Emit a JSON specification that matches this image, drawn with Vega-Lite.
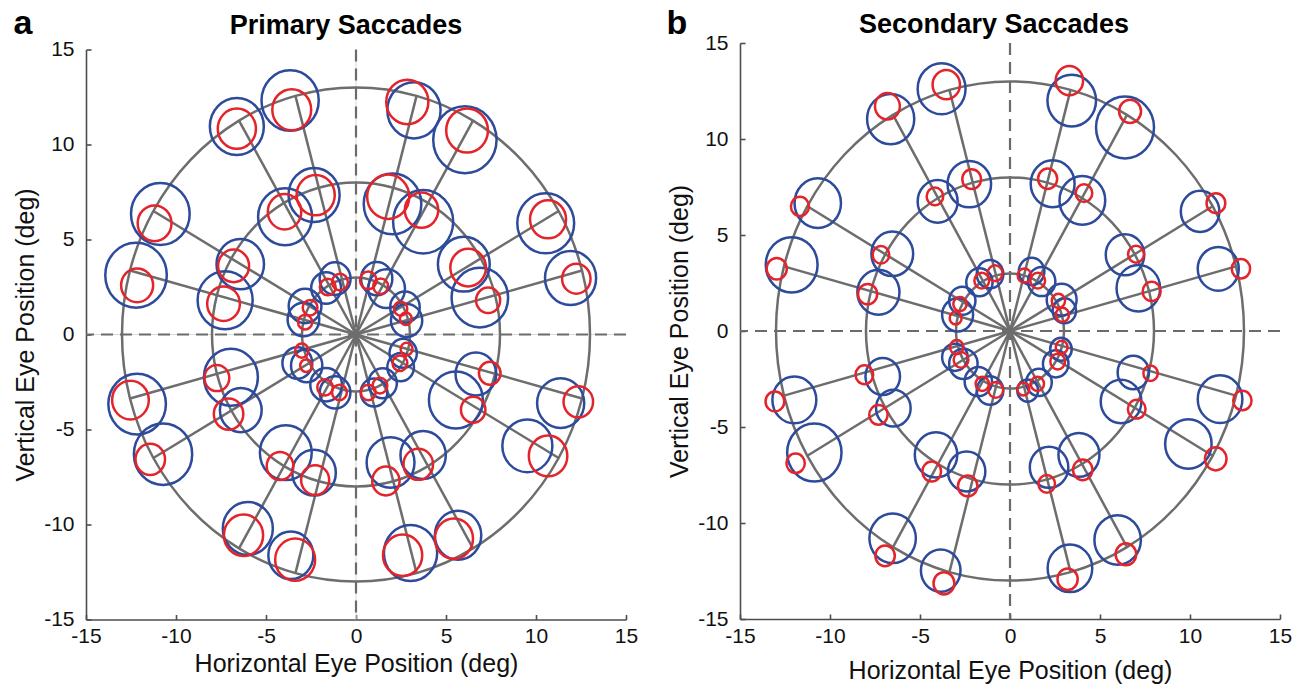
{
  "$schema": "https://vega.github.io/schema/vega-lite/v6.json",
  "background": "white",
  "padding": {"left": 13, "top": 6, "right": 5, "bottom": 5},
  "spacing": 28,
  "center": true,
  "config": {
    "view": {"stroke": null},
    "font": "Liberation Sans",
    "axis": {
      "grid": false,
      "domainColor": "#4d4d4d",
      "domainWidth": 1.6,
      "tickColor": "#4d4d4d",
      "tickWidth": 1.6,
      "tickSize": -5,
      "labelFont": "Liberation Sans",
      "labelFontSize": 21,
      "labelColor": "#111111",
      "titleFont": "Liberation Sans",
      "titleFontSize": 25,
      "titleFontWeight": "normal",
      "titleColor": "#111111",
      "labelFlush": false,
      "labelOverlap": false,
      "labelExpr": "'' + datum.value"
    },
    "axisX": {"labelPadding": 11, "titlePadding": 5},
    "axisY": {"labelPadding": 17, "titlePadding": 5},
    "title": {"font": "Liberation Sans", "fontSize": 27, "fontWeight": "bold", "color": "#000000", "baseline": "alphabetic"}
  },
  "datasets": {
    "rings": [
      {"ring": 13, "i": 0, "x": 13, "y": 0}, {"ring": 13, "i": 1, "x": 12.557, "y": 3.365}, {"ring": 13, "i": 2, "x": 11.258, "y": 6.5}, {"ring": 13, "i": 3, "x": 9.192, "y": 9.192}, {"ring": 13, "i": 4, "x": 6.5, "y": 11.258}, {"ring": 13, "i": 5, "x": 3.365, "y": 12.557}, {"ring": 13, "i": 6, "x": 0, "y": 13}, {"ring": 13, "i": 7, "x": -3.365, "y": 12.557}, {"ring": 13, "i": 8, "x": -6.5, "y": 11.258}, {"ring": 13, "i": 9, "x": -9.192, "y": 9.192}, {"ring": 13, "i": 10, "x": -11.258, "y": 6.5}, {"ring": 13, "i": 11, "x": -12.557, "y": 3.365}, {"ring": 13, "i": 12, "x": -13, "y": 0}, {"ring": 13, "i": 13, "x": -12.557, "y": -3.365}, {"ring": 13, "i": 14, "x": -11.258, "y": -6.5}, {"ring": 13, "i": 15, "x": -9.192, "y": -9.192}, {"ring": 13, "i": 16, "x": -6.5, "y": -11.258}, {"ring": 13, "i": 17, "x": -3.365, "y": -12.557}, {"ring": 13, "i": 18, "x": 0, "y": -13}, {"ring": 13, "i": 19, "x": 3.365, "y": -12.557}, {"ring": 13, "i": 20, "x": 6.5, "y": -11.258}, {"ring": 13, "i": 21, "x": 9.192, "y": -9.192}, {"ring": 13, "i": 22, "x": 11.258, "y": -6.5}, {"ring": 13, "i": 23, "x": 12.557, "y": -3.365},
      {"ring": 8, "i": 0, "x": 8, "y": 0}, {"ring": 8, "i": 1, "x": 7.727, "y": 2.071}, {"ring": 8, "i": 2, "x": 6.928, "y": 4}, {"ring": 8, "i": 3, "x": 5.657, "y": 5.657}, {"ring": 8, "i": 4, "x": 4, "y": 6.928}, {"ring": 8, "i": 5, "x": 2.071, "y": 7.727}, {"ring": 8, "i": 6, "x": 0, "y": 8}, {"ring": 8, "i": 7, "x": -2.071, "y": 7.727}, {"ring": 8, "i": 8, "x": -4, "y": 6.928}, {"ring": 8, "i": 9, "x": -5.657, "y": 5.657}, {"ring": 8, "i": 10, "x": -6.928, "y": 4}, {"ring": 8, "i": 11, "x": -7.727, "y": 2.071}, {"ring": 8, "i": 12, "x": -8, "y": 0}, {"ring": 8, "i": 13, "x": -7.727, "y": -2.071}, {"ring": 8, "i": 14, "x": -6.928, "y": -4}, {"ring": 8, "i": 15, "x": -5.657, "y": -5.657}, {"ring": 8, "i": 16, "x": -4, "y": -6.928}, {"ring": 8, "i": 17, "x": -2.071, "y": -7.727}, {"ring": 8, "i": 18, "x": 0, "y": -8}, {"ring": 8, "i": 19, "x": 2.071, "y": -7.727}, {"ring": 8, "i": 20, "x": 4, "y": -6.928}, {"ring": 8, "i": 21, "x": 5.657, "y": -5.657}, {"ring": 8, "i": 22, "x": 6.928, "y": -4}, {"ring": 8, "i": 23, "x": 7.727, "y": -2.071},
      {"ring": 3, "i": 0, "x": 3, "y": 0}, {"ring": 3, "i": 1, "x": 2.898, "y": 0.776}, {"ring": 3, "i": 2, "x": 2.598, "y": 1.5}, {"ring": 3, "i": 3, "x": 2.121, "y": 2.121}, {"ring": 3, "i": 4, "x": 1.5, "y": 2.598}, {"ring": 3, "i": 5, "x": 0.776, "y": 2.898}, {"ring": 3, "i": 6, "x": 0, "y": 3}, {"ring": 3, "i": 7, "x": -0.776, "y": 2.898}, {"ring": 3, "i": 8, "x": -1.5, "y": 2.598}, {"ring": 3, "i": 9, "x": -2.121, "y": 2.121}, {"ring": 3, "i": 10, "x": -2.598, "y": 1.5}, {"ring": 3, "i": 11, "x": -2.898, "y": 0.776}, {"ring": 3, "i": 12, "x": -3, "y": 0}, {"ring": 3, "i": 13, "x": -2.898, "y": -0.776}, {"ring": 3, "i": 14, "x": -2.598, "y": -1.5}, {"ring": 3, "i": 15, "x": -2.121, "y": -2.121}, {"ring": 3, "i": 16, "x": -1.5, "y": -2.598}, {"ring": 3, "i": 17, "x": -0.776, "y": -2.898}, {"ring": 3, "i": 18, "x": 0, "y": -3}, {"ring": 3, "i": 19, "x": 0.776, "y": -2.898}, {"ring": 3, "i": 20, "x": 1.5, "y": -2.598}, {"ring": 3, "i": 21, "x": 2.121, "y": -2.121}, {"ring": 3, "i": 22, "x": 2.598, "y": -1.5}, {"ring": 3, "i": 23, "x": 2.898, "y": -0.776}
    ],
    "spokes": [
      {"ang": 15, "x0": 0, "y0": 0, "tx": 12.557, "ty": 3.365}, {"ang": 30, "x0": 0, "y0": 0, "tx": 11.258, "ty": 6.5}, {"ang": 60, "x0": 0, "y0": 0, "tx": 6.5, "ty": 11.258}, {"ang": 75, "x0": 0, "y0": 0, "tx": 3.365, "ty": 12.557},
      {"ang": 105, "x0": 0, "y0": 0, "tx": -3.365, "ty": 12.557}, {"ang": 120, "x0": 0, "y0": 0, "tx": -6.5, "ty": 11.258}, {"ang": 150, "x0": 0, "y0": 0, "tx": -11.258, "ty": 6.5}, {"ang": 165, "x0": 0, "y0": 0, "tx": -12.557, "ty": 3.365},
      {"ang": 195, "x0": 0, "y0": 0, "tx": -12.557, "ty": -3.365}, {"ang": 210, "x0": 0, "y0": 0, "tx": -11.258, "ty": -6.5}, {"ang": 240, "x0": 0, "y0": 0, "tx": -6.5, "ty": -11.258}, {"ang": 255, "x0": 0, "y0": 0, "tx": -3.365, "ty": -12.557},
      {"ang": 285, "x0": 0, "y0": 0, "tx": 3.365, "ty": -12.557}, {"ang": 300, "x0": 0, "y0": 0, "tx": 6.5, "ty": -11.258}, {"ang": 330, "x0": 0, "y0": 0, "tx": 11.258, "ty": -6.5}, {"ang": 345, "x0": 0, "y0": 0, "tx": 12.557, "ty": -3.365}
    ],
    "primary": [
      {"ring": 13, "ang": 15, "bx": 11.92, "by": 2.97, "br": 1.42, "ex": 12.24, "ey": 2.94, "er": 0.79},
      {"ring": 13, "ang": 30, "bx": 10.54, "by": 5.85, "br": 1.58, "ex": 10.67, "ey": 6.06, "er": 1.0},
      {"ring": 13, "ang": 60, "bx": 6.05, "by": 10.25, "br": 1.76, "ex": 6.17, "ey": 10.74, "er": 1.16},
      {"ring": 13, "ang": 75, "bx": 3.22, "by": 11.8, "br": 1.48, "ex": 2.85, "ey": 12.24, "er": 1.17},
      {"ring": 13, "ang": 105, "bx": -3.66, "by": 12.32, "br": 1.59, "ex": -3.57, "ey": 11.83, "er": 1.08},
      {"ring": 13, "ang": 120, "bx": -6.62, "by": 10.95, "br": 1.5, "ex": -6.62, "ey": 10.83, "er": 1.06},
      {"ring": 13, "ang": 150, "bx": -10.87, "by": 6.34, "br": 1.63, "ex": -11.19, "ey": 5.85, "er": 0.94},
      {"ring": 13, "ang": 165, "bx": -12.22, "by": 3.12, "br": 1.71, "ex": -12.16, "ey": 2.59, "er": 0.89},
      {"ring": 13, "ang": 195, "bx": -12.16, "by": -3.66, "br": 1.6, "ex": -12.53, "ey": -3.45, "er": 1.02},
      {"ring": 13, "ang": 210, "bx": -10.72, "by": -6.3, "br": 1.62, "ex": -11.43, "ey": -6.57, "er": 0.82},
      {"ring": 13, "ang": 240, "bx": -6.01, "by": -10.21, "br": 1.39, "ex": -6.25, "ey": -10.57, "er": 1.09},
      {"ring": 13, "ang": 255, "bx": -3.62, "by": -11.62, "br": 1.25, "ex": -3.38, "ey": -11.85, "er": 1.11},
      {"ring": 13, "ang": 285, "bx": 3.03, "by": -11.5, "br": 1.48, "ex": 2.59, "ey": -11.62, "er": 1.09},
      {"ring": 13, "ang": 300, "bx": 5.67, "by": -10.57, "br": 1.29, "ex": 5.44, "ey": -10.74, "er": 1.06},
      {"ring": 13, "ang": 330, "bx": 9.52, "by": -5.86, "br": 1.39, "ex": 10.67, "ey": -6.39, "er": 1.07},
      {"ring": 13, "ang": 345, "bx": 11.37, "by": -3.61, "br": 1.31, "ex": 12.35, "ey": -3.54, "er": 0.82},
      {"ring": 8, "ang": 15, "bx": 6.88, "by": 1.94, "br": 1.57, "ex": 7.34, "ey": 1.8, "er": 0.67},
      {"ring": 8, "ang": 30, "bx": 5.99, "by": 3.7, "br": 1.44, "ex": 6.23, "ey": 3.52, "er": 0.99},
      {"ring": 8, "ang": 60, "bx": 3.73, "by": 5.93, "br": 1.67, "ex": 3.64, "ey": 6.55, "er": 0.93},
      {"ring": 8, "ang": 75, "bx": 2.03, "by": 6.87, "br": 1.6, "ex": 1.79, "ey": 7.25, "er": 1.17},
      {"ring": 8, "ang": 105, "bx": -2.33, "by": 7.34, "br": 1.42, "ex": -2.24, "ey": 7.34, "er": 1.06},
      {"ring": 8, "ang": 120, "bx": -3.94, "by": 6.2, "br": 1.5, "ex": -3.97, "ey": 6.46, "er": 0.93},
      {"ring": 8, "ang": 150, "bx": -6.43, "by": 3.7, "br": 1.32, "ex": -6.8, "ey": 3.61, "er": 0.86},
      {"ring": 8, "ang": 165, "bx": -7.27, "by": 1.8, "br": 1.53, "ex": -7.36, "ey": 1.62, "er": 0.91},
      {"ring": 8, "ang": 195, "bx": -6.95, "by": -2.25, "br": 1.5, "ex": -7.73, "ey": -2.29, "er": 0.69},
      {"ring": 8, "ang": 210, "bx": -6.4, "by": -3.98, "br": 1.16, "ex": -7.08, "ey": -4.19, "er": 0.82},
      {"ring": 8, "ang": 240, "bx": -3.9, "by": -6.22, "br": 1.44, "ex": -4.22, "ey": -6.92, "er": 0.74},
      {"ring": 8, "ang": 255, "bx": -2.33, "by": -7.27, "br": 1.21, "ex": -2.27, "ey": -7.66, "er": 0.78},
      {"ring": 8, "ang": 285, "bx": 1.92, "by": -6.74, "br": 1.33, "ex": 1.66, "ey": -7.71, "er": 0.76},
      {"ring": 8, "ang": 300, "bx": 3.73, "by": -6.34, "br": 1.26, "ex": 3.46, "ey": -6.83, "er": 0.82},
      {"ring": 8, "ang": 330, "bx": 5.55, "by": -3.45, "br": 1.5, "ex": 6.51, "ey": -3.96, "er": 0.68},
      {"ring": 8, "ang": 345, "bx": 6.66, "by": -2.08, "br": 1.13, "ex": 7.43, "ey": -2.04, "er": 0.6},
      {"ring": 3, "ang": 15, "bx": 2.81, "by": 0.74, "br": 0.87, "ex": 2.77, "ey": 0.83, "er": 0.33},
      {"ring": 3, "ang": 30, "bx": 2.72, "by": 1.44, "br": 0.82, "ex": 2.48, "ey": 1.36, "er": 0.37},
      {"ring": 3, "ang": 60, "bx": 1.7, "by": 2.41, "br": 1.02, "ex": 1.37, "ey": 2.54, "er": 0.41},
      {"ring": 3, "ang": 75, "bx": 1.15, "by": 2.94, "br": 0.87, "ex": 0.68, "ey": 2.85, "er": 0.46},
      {"ring": 3, "ang": 105, "bx": -1.16, "by": 2.94, "br": 0.86, "ex": -0.89, "ey": 2.76, "er": 0.44},
      {"ring": 3, "ang": 120, "bx": -1.66, "by": 2.45, "br": 0.83, "ex": -1.57, "ey": 2.5, "er": 0.44},
      {"ring": 3, "ang": 150, "bx": -2.83, "by": 1.5, "br": 0.91, "ex": -2.55, "ey": 1.41, "er": 0.41},
      {"ring": 3, "ang": 165, "bx": -2.92, "by": 0.79, "br": 0.88, "ex": -2.83, "ey": 0.65, "er": 0.39},
      {"ring": 3, "ang": 195, "bx": -3.26, "by": -1.5, "br": 0.83, "ex": -3.01, "ey": -0.85, "er": 0.37},
      {"ring": 3, "ang": 210, "bx": -2.74, "by": -1.64, "br": 0.87, "ex": -2.77, "ey": -1.64, "er": 0.33},
      {"ring": 3, "ang": 240, "bx": -1.66, "by": -2.64, "br": 0.88, "ex": -1.72, "ey": -2.78, "er": 0.43},
      {"ring": 3, "ang": 255, "bx": -1.16, "by": -3.05, "br": 0.85, "ex": -0.92, "ey": -3.05, "er": 0.41},
      {"ring": 3, "ang": 285, "bx": 1.0, "by": -3.05, "br": 0.74, "ex": 0.68, "ey": -3.05, "er": 0.41},
      {"ring": 3, "ang": 300, "bx": 1.48, "by": -2.57, "br": 0.79, "ex": 1.33, "ey": -2.69, "er": 0.41},
      {"ring": 3, "ang": 330, "bx": 2.48, "by": -1.72, "br": 0.74, "ex": 2.44, "ey": -1.51, "er": 0.41},
      {"ring": 3, "ang": 345, "bx": 2.62, "by": -0.99, "br": 0.76, "ex": 2.81, "ey": -0.76, "er": 0.33}
    ],
    "secondary": [
      {"ring": 13, "ang": 15, "bx": 11.57, "by": 3.24, "br": 1.14, "ex": 12.83, "ey": 3.24, "er": 0.51},
      {"ring": 13, "ang": 30, "bx": 10.56, "by": 6.23, "br": 1.07, "ex": 11.44, "ey": 6.66, "er": 0.52},
      {"ring": 13, "ang": 60, "bx": 6.39, "by": 10.6, "br": 1.61, "ex": 6.67, "ey": 11.44, "er": 0.61},
      {"ring": 13, "ang": 75, "bx": 3.43, "by": 12.0, "br": 1.35, "ex": 3.3, "ey": 13.04, "er": 0.76},
      {"ring": 13, "ang": 105, "bx": -3.8, "by": 12.62, "br": 1.33, "ex": -3.54, "ey": 12.83, "er": 0.76},
      {"ring": 13, "ang": 120, "bx": -6.63, "by": 11.04, "br": 1.31, "ex": -6.81, "ey": 11.7, "er": 0.69},
      {"ring": 13, "ang": 150, "bx": -10.68, "by": 6.66, "br": 1.29, "ex": -11.67, "ey": 6.49, "er": 0.5},
      {"ring": 13, "ang": 165, "bx": -12.13, "by": 3.45, "br": 1.44, "ex": -12.96, "ey": 3.24, "er": 0.56},
      {"ring": 13, "ang": 195, "bx": -11.98, "by": -3.59, "br": 1.22, "ex": -13.06, "ey": -3.67, "er": 0.52},
      {"ring": 13, "ang": 210, "bx": -10.87, "by": -6.33, "br": 1.51, "ex": -11.91, "ey": -6.89, "er": 0.51},
      {"ring": 13, "ang": 240, "bx": -6.52, "by": -10.8, "br": 1.29, "ex": -6.94, "ey": -11.71, "er": 0.54},
      {"ring": 13, "ang": 255, "bx": -3.85, "by": -12.48, "br": 1.1, "ex": -3.67, "ey": -13.14, "er": 0.58},
      {"ring": 13, "ang": 285, "bx": 3.33, "by": -12.36, "br": 1.24, "ex": 3.2, "ey": -12.93, "er": 0.56},
      {"ring": 13, "ang": 300, "bx": 5.98, "by": -10.88, "br": 1.29, "ex": 6.44, "ey": -11.63, "er": 0.57},
      {"ring": 13, "ang": 330, "bx": 9.91, "by": -5.88, "br": 1.29, "ex": 11.43, "ey": -6.66, "er": 0.6},
      {"ring": 13, "ang": 345, "bx": 11.67, "by": -3.55, "br": 1.24, "ex": 12.91, "ey": -3.62, "er": 0.51},
      {"ring": 8, "ang": 15, "bx": 7.13, "by": 2.23, "br": 1.21, "ex": 7.87, "ey": 2.06, "er": 0.5},
      {"ring": 8, "ang": 30, "bx": 6.39, "by": 3.97, "br": 1.07, "ex": 7.0, "ey": 4.0, "er": 0.44},
      {"ring": 8, "ang": 60, "bx": 4.02, "by": 6.8, "br": 1.27, "ex": 4.11, "ey": 7.18, "er": 0.46},
      {"ring": 8, "ang": 75, "bx": 2.37, "by": 7.67, "br": 1.22, "ex": 2.09, "ey": 7.93, "er": 0.53},
      {"ring": 8, "ang": 105, "bx": -2.26, "by": 7.65, "br": 1.21, "ex": -2.13, "ey": 7.91, "er": 0.52},
      {"ring": 8, "ang": 120, "bx": -4.02, "by": 6.75, "br": 1.11, "ex": -4.17, "ey": 7.01, "er": 0.46},
      {"ring": 8, "ang": 150, "bx": -6.54, "by": 4.02, "br": 1.16, "ex": -7.17, "ey": 3.97, "er": 0.46},
      {"ring": 8, "ang": 165, "bx": -7.31, "by": 2.02, "br": 1.17, "ex": -7.91, "ey": 1.92, "er": 0.53},
      {"ring": 8, "ang": 195, "bx": -7.07, "by": -2.37, "br": 0.96, "ex": -8.09, "ey": -2.28, "er": 0.49},
      {"ring": 8, "ang": 210, "bx": -6.48, "by": -4.02, "br": 0.96, "ex": -7.31, "ey": -4.37, "er": 0.51},
      {"ring": 8, "ang": 240, "bx": -4.11, "by": -6.45, "br": 1.18, "ex": -4.35, "ey": -7.32, "er": 0.52},
      {"ring": 8, "ang": 255, "bx": -2.41, "by": -7.32, "br": 1.04, "ex": -2.35, "ey": -8.07, "er": 0.54},
      {"ring": 8, "ang": 285, "bx": 2.17, "by": -7.1, "br": 1.07, "ex": 2.04, "ey": -7.96, "er": 0.46},
      {"ring": 8, "ang": 300, "bx": 3.83, "by": -6.45, "br": 1.14, "ex": 4.04, "ey": -7.23, "er": 0.54},
      {"ring": 8, "ang": 330, "bx": 6.17, "by": -3.67, "br": 1.13, "ex": 7.04, "ey": -4.07, "er": 0.49},
      {"ring": 8, "ang": 345, "bx": 6.85, "by": -2.16, "br": 0.87, "ex": 7.81, "ey": -2.2, "er": 0.4},
      {"ring": 3, "ang": 15, "bx": 3.02, "by": 1.05, "br": 0.65, "ex": 2.91, "ey": 0.84, "er": 0.37},
      {"ring": 3, "ang": 30, "bx": 2.87, "by": 1.63, "br": 0.83, "ex": 2.69, "ey": 1.57, "er": 0.37},
      {"ring": 3, "ang": 60, "bx": 1.76, "by": 2.58, "br": 0.76, "ex": 1.54, "ey": 2.62, "er": 0.41},
      {"ring": 3, "ang": 75, "bx": 1.2, "by": 3.1, "br": 0.71, "ex": 0.8, "ey": 2.89, "er": 0.37},
      {"ring": 3, "ang": 105, "bx": -1.11, "by": 2.96, "br": 0.74, "ex": -0.83, "ey": 3.01, "er": 0.41},
      {"ring": 3, "ang": 120, "bx": -1.7, "by": 2.54, "br": 0.73, "ex": -1.57, "ey": 2.62, "er": 0.41},
      {"ring": 3, "ang": 150, "bx": -2.65, "by": 1.57, "br": 0.73, "ex": -2.78, "ey": 1.4, "er": 0.37},
      {"ring": 3, "ang": 165, "bx": -2.91, "by": 0.84, "br": 0.86, "ex": -3.02, "ey": 0.67, "er": 0.33},
      {"ring": 3, "ang": 195, "bx": -3.06, "by": -1.37, "br": 0.71, "ex": -2.96, "ey": -0.84, "er": 0.37},
      {"ring": 3, "ang": 210, "bx": -2.59, "by": -1.71, "br": 0.79, "ex": -2.72, "ey": -1.5, "er": 0.41},
      {"ring": 3, "ang": 240, "bx": -1.76, "by": -2.63, "br": 0.76, "ex": -1.54, "ey": -2.75, "er": 0.37},
      {"ring": 3, "ang": 255, "bx": -1.11, "by": -3.1, "br": 0.74, "ex": -0.79, "ey": -3.07, "er": 0.41},
      {"ring": 3, "ang": 285, "bx": 0.98, "by": -3.1, "br": 0.58, "ex": 0.74, "ey": -3.03, "er": 0.33},
      {"ring": 3, "ang": 300, "bx": 1.61, "by": -2.68, "br": 0.71, "ex": 1.52, "ey": -2.75, "er": 0.37},
      {"ring": 3, "ang": 330, "bx": 2.54, "by": -1.71, "br": 0.71, "ex": 2.65, "ey": -1.59, "er": 0.41},
      {"ring": 3, "ang": 345, "bx": 2.83, "by": -0.95, "br": 0.6, "ex": 2.87, "ey": -0.84, "er": 0.33}
    ]
  },
  "resolve": {"scale": {"x": "independent", "y": "independent", "size": "independent"}},
  "hconcat": [
    {
      "width": 540,
      "height": 570,
      "title": {"text": "Primary Saccades", "dx": -10, "offset": -33},
      "layer": [
        {
          "data": {"values": [{"v": 0}]},
          "mark": {"type": "rule", "color": "#d9d9d9", "strokeWidth": 1},
          "encoding": {"x": {"field": "v", "type": "quantitative", "scale": {"domain": [-15, 15]}, "axis": {"values": [-15, -10, -5, 0, 5, 10, 15]}, "title": "Horizontal Eye Position (deg)"}}
        },
        {
          "data": {"values": [{"v": 0}]},
          "mark": {"type": "rule", "color": "#d9d9d9", "strokeWidth": 1},
          "encoding": {"y": {"field": "v", "type": "quantitative", "scale": {"domain": [-15, 15]}, "axis": {"values": [-15, -10, -5, 0, 5, 10, 15]}, "title": "Vertical Eye Position (deg)"}}
        },
        {
          "data": {"values": [{"v": 0}]},
          "mark": {"type": "rule", "color": "#6b6b6b", "strokeWidth": 2.2, "strokeDash": [12, 7]},
          "encoding": {"x": {"field": "v", "type": "quantitative", "scale": {"domain": [-15, 15]}, "axis": {"values": [-15, -10, -5, 0, 5, 10, 15]}, "title": "Horizontal Eye Position (deg)"}}
        },
        {
          "data": {"values": [{"v": 0}]},
          "mark": {"type": "rule", "color": "#6b6b6b", "strokeWidth": 2.2, "strokeDash": [12, 7]},
          "encoding": {"y": {"field": "v", "type": "quantitative", "scale": {"domain": [-15, 15]}, "axis": {"values": [-15, -10, -5, 0, 5, 10, 15]}, "title": "Vertical Eye Position (deg)"}}
        },
        {
          "data": {"name": "rings"},
          "mark": {"type": "line", "interpolate": "cardinal-closed", "tension": 0, "color": "#6d6d6d", "strokeWidth": 2.5},
          "encoding": {
            "x": {"field": "x", "type": "quantitative", "scale": {"domain": [-15, 15]}, "axis": {"values": [-15, -10, -5, 0, 5, 10, 15]}, "title": "Horizontal Eye Position (deg)"},
            "y": {"field": "y", "type": "quantitative", "scale": {"domain": [-15, 15]}, "axis": {"values": [-15, -10, -5, 0, 5, 10, 15]}, "title": "Vertical Eye Position (deg)"},
            "detail": {"field": "ring", "type": "nominal"},
            "order": {"field": "i", "type": "quantitative"}
          }
        },
        {
          "data": {"name": "spokes"},
          "mark": {"type": "rule", "color": "#6d6d6d", "strokeWidth": 2.5},
          "encoding": {
            "x": {"field": "x0", "type": "quantitative", "scale": {"domain": [-15, 15]}, "axis": {"values": [-15, -10, -5, 0, 5, 10, 15]}, "title": "Horizontal Eye Position (deg)"},
            "y": {"field": "y0", "type": "quantitative", "scale": {"domain": [-15, 15]}, "axis": {"values": [-15, -10, -5, 0, 5, 10, 15]}, "title": "Vertical Eye Position (deg)"},
            "x2": {"field": "tx"},
            "y2": {"field": "ty"}
          }
        },
        {
          "data": {"name": "primary"},
          "mark": {"type": "point", "shape": "M0.947,0C0.947,0.552,0.523,1,0,1C-0.523,1,-0.947,0.552,-0.947,0C-0.947,-0.552,-0.523,-1,0,-1C0.523,-1,0.947,-0.552,0.947,0Z", "filled": false, "color": "#2d4a9b", "strokeWidth": 2.5, "opacity": 1},
          "encoding": {
            "x": {"field": "bx", "type": "quantitative", "scale": {"domain": [-15, 15]}, "axis": {"values": [-15, -10, -5, 0, 5, 10, 15]}, "title": "Horizontal Eye Position (deg)"},
            "y": {"field": "by", "type": "quantitative", "scale": {"domain": [-15, 15]}, "axis": {"values": [-15, -10, -5, 0, 5, 10, 15]}, "title": "Vertical Eye Position (deg)"},
            "size": {"field": "br", "type": "quantitative", "scale": {"type": "pow", "exponent": 2, "domain": [0, 1], "range": [0, 1444]}, "legend": null}
          }
        },
        {
          "data": {"name": "primary"},
          "mark": {"type": "point", "shape": "M0.947,0C0.947,0.552,0.523,1,0,1C-0.523,1,-0.947,0.552,-0.947,0C-0.947,-0.552,-0.523,-1,0,-1C0.523,-1,0.947,-0.552,0.947,0Z", "filled": false, "color": "#e3242b", "strokeWidth": 2.5, "opacity": 1},
          "encoding": {
            "x": {"field": "ex", "type": "quantitative", "scale": {"domain": [-15, 15]}, "axis": {"values": [-15, -10, -5, 0, 5, 10, 15]}, "title": "Horizontal Eye Position (deg)"},
            "y": {"field": "ey", "type": "quantitative", "scale": {"domain": [-15, 15]}, "axis": {"values": [-15, -10, -5, 0, 5, 10, 15]}, "title": "Vertical Eye Position (deg)"},
            "size": {"field": "er", "type": "quantitative", "scale": {"type": "pow", "exponent": 2, "domain": [0, 1], "range": [0, 1444]}, "legend": null}
          }
        },
        {
          "data": {"values": [{"panel": "a", "lx": -18.5, "ly": 15.84}]},
          "mark": {"type": "text", "fontSize": 34, "fontWeight": "bold", "font": "Liberation Sans", "color": "#000000", "align": "center", "baseline": "alphabetic", "clip": false},
          "encoding": {
            "x": {"field": "lx", "type": "quantitative", "scale": {"domain": [-15, 15]}, "axis": {"values": [-15, -10, -5, 0, 5, 10, 15]}, "title": "Horizontal Eye Position (deg)"},
            "y": {"field": "ly", "type": "quantitative", "scale": {"domain": [-15, 15]}, "axis": {"values": [-15, -10, -5, 0, 5, 10, 15]}, "title": "Vertical Eye Position (deg)"},
            "text": {"field": "panel"}
          }
        }
      ]
    },
    {
      "width": 540,
      "height": 576,
      "title": {"text": "Secondary Saccades", "dx": -16, "offset": -32},
      "layer": [
        {
          "data": {"values": [{"v": 0}]},
          "mark": {"type": "rule", "color": "#6b6b6b", "strokeWidth": 2.2, "strokeDash": [12, 7]},
          "encoding": {"x": {"field": "v", "type": "quantitative", "scale": {"domain": [-15, 15]}, "axis": {"values": [-15, -10, -5, 0, 5, 10, 15], "titlePadding": 12}, "title": "Horizontal Eye Position (deg)"}}
        },
        {
          "data": {"values": [{"v": 0}]},
          "mark": {"type": "rule", "color": "#6b6b6b", "strokeWidth": 2.2, "strokeDash": [12, 7]},
          "encoding": {"y": {"field": "v", "type": "quantitative", "scale": {"domain": [-15, 15]}, "axis": {"values": [-15, -10, -5, 0, 5, 10, 15]}, "title": "Vertical Eye Position (deg)"}}
        },
        {
          "data": {"name": "rings"},
          "mark": {"type": "line", "interpolate": "cardinal-closed", "tension": 0, "color": "#6d6d6d", "strokeWidth": 2.5},
          "encoding": {
            "x": {"field": "x", "type": "quantitative", "scale": {"domain": [-15, 15]}, "axis": {"values": [-15, -10, -5, 0, 5, 10, 15], "titlePadding": 12}, "title": "Horizontal Eye Position (deg)"},
            "y": {"field": "y", "type": "quantitative", "scale": {"domain": [-15, 15]}, "axis": {"values": [-15, -10, -5, 0, 5, 10, 15]}, "title": "Vertical Eye Position (deg)"},
            "detail": {"field": "ring", "type": "nominal"},
            "order": {"field": "i", "type": "quantitative"}
          }
        },
        {
          "data": {"name": "spokes"},
          "mark": {"type": "rule", "color": "#6d6d6d", "strokeWidth": 2.5},
          "encoding": {
            "x": {"field": "x0", "type": "quantitative", "scale": {"domain": [-15, 15]}, "axis": {"values": [-15, -10, -5, 0, 5, 10, 15], "titlePadding": 12}, "title": "Horizontal Eye Position (deg)"},
            "y": {"field": "y0", "type": "quantitative", "scale": {"domain": [-15, 15]}, "axis": {"values": [-15, -10, -5, 0, 5, 10, 15]}, "title": "Vertical Eye Position (deg)"},
            "x2": {"field": "tx"},
            "y2": {"field": "ty"}
          }
        },
        {
          "data": {"name": "secondary"},
          "mark": {"type": "point", "shape": "M0.938,0C0.938,0.552,0.518,1,0,1C-0.518,1,-0.938,0.552,-0.938,0C-0.938,-0.552,-0.518,-1,0,-1C0.518,-1,0.938,-0.552,0.938,0Z", "filled": false, "color": "#2d4a9b", "strokeWidth": 2.5, "opacity": 1},
          "encoding": {
            "x": {"field": "bx", "type": "quantitative", "scale": {"domain": [-15, 15]}, "axis": {"values": [-15, -10, -5, 0, 5, 10, 15], "titlePadding": 12}, "title": "Horizontal Eye Position (deg)"},
            "y": {"field": "by", "type": "quantitative", "scale": {"domain": [-15, 15]}, "axis": {"values": [-15, -10, -5, 0, 5, 10, 15]}, "title": "Vertical Eye Position (deg)"},
            "size": {"field": "br", "type": "quantitative", "scale": {"type": "pow", "exponent": 2, "domain": [0, 1], "range": [0, 1473]}, "legend": null}
          }
        },
        {
          "data": {"name": "secondary"},
          "mark": {"type": "point", "shape": "M0.938,0C0.938,0.552,0.518,1,0,1C-0.518,1,-0.938,0.552,-0.938,0C-0.938,-0.552,-0.518,-1,0,-1C0.518,-1,0.938,-0.552,0.938,0Z", "filled": false, "color": "#e3242b", "strokeWidth": 2.5, "opacity": 1},
          "encoding": {
            "x": {"field": "ex", "type": "quantitative", "scale": {"domain": [-15, 15]}, "axis": {"values": [-15, -10, -5, 0, 5, 10, 15], "titlePadding": 12}, "title": "Horizontal Eye Position (deg)"},
            "y": {"field": "ey", "type": "quantitative", "scale": {"domain": [-15, 15]}, "axis": {"values": [-15, -10, -5, 0, 5, 10, 15]}, "title": "Vertical Eye Position (deg)"},
            "size": {"field": "er", "type": "quantitative", "scale": {"type": "pow", "exponent": 2, "domain": [0, 1], "range": [0, 1473]}, "legend": null}
          }
        },
        {
          "data": {"values": [{"panel": "b", "lx": -18.5, "ly": 15.45}]},
          "mark": {"type": "text", "fontSize": 34, "fontWeight": "bold", "font": "Liberation Sans", "color": "#000000", "align": "center", "baseline": "alphabetic", "clip": false},
          "encoding": {
            "x": {"field": "lx", "type": "quantitative", "scale": {"domain": [-15, 15]}, "axis": {"values": [-15, -10, -5, 0, 5, 10, 15], "titlePadding": 12}, "title": "Horizontal Eye Position (deg)"},
            "y": {"field": "ly", "type": "quantitative", "scale": {"domain": [-15, 15]}, "axis": {"values": [-15, -10, -5, 0, 5, 10, 15]}, "title": "Vertical Eye Position (deg)"},
            "text": {"field": "panel"}
          }
        }
      ]
    }
  ]
}
